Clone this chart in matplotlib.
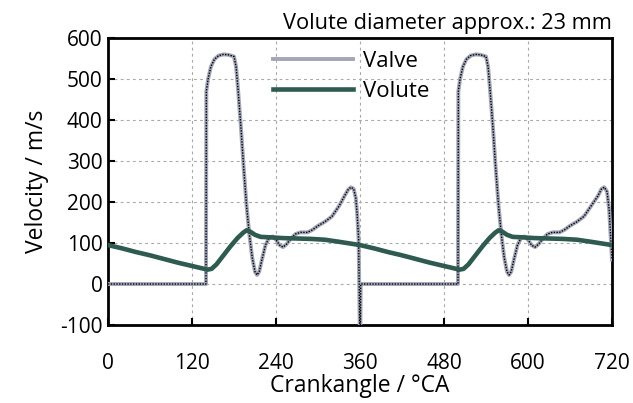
import matplotlib
matplotlib.use("Agg")
import matplotlib.pyplot as plt

plt.rcParams['font.family'] = ['Open Sans', 'DejaVu Sans']
plt.rcParams['axes.unicode_minus'] = False

# Valve velocity (m/s) vs crank angle (°CA)
valve_angle = [0, 140, 140.5, 143, 147, 152, 158, 165, 172, 180, 183, 186, 190, 194, 198, 202,
               206, 210, 213, 216, 220, 225, 230, 235, 240, 245, 250, 255, 262, 268, 275, 285,
               292, 300, 310, 320, 330, 338, 343, 347, 351, 354, 356, 358, 359.8, 360.5, 361,
               500, 500.5, 503, 507, 512, 518, 525, 532, 540, 543, 546, 550, 554, 558, 562,
               566, 570, 573, 576, 580, 585, 590, 595, 600, 605, 610, 615, 622, 628, 635, 645,
               652, 660, 670, 680, 690, 700, 705, 709, 713, 716, 718, 720]
valve_vel = [0, 0, 470, 500, 530, 548, 557, 560, 559, 555, 530, 470, 380, 280, 190, 120,
             65, 30, 22, 30, 60, 95, 112, 116, 108, 95, 90, 97, 112, 122, 126, 126,
             132, 142, 152, 165, 190, 215, 230, 236, 232, 210, 170, 110, -120, -120, 0,
             0, 470, 500, 530, 548, 557, 560, 559, 555, 530, 470, 380, 280, 190, 120,
             65, 30, 22, 30, 60, 95, 112, 116, 108, 95, 90, 97, 112, 122, 126, 126,
             132, 142, 152, 165, 190, 215, 232, 236, 225, 180, 120, 60]

# Volute velocity (m/s)
volute_angle = [0, 20, 40, 60, 80, 100, 120, 135, 142, 148, 155, 165, 175, 185, 193, 198,
                203, 210, 218, 230, 250, 270, 290, 310, 330, 345, 360,
                380, 400, 420, 440, 460, 480, 495, 502, 508, 515, 525, 535, 545, 553, 558,
                563, 570, 578, 590, 610, 630, 650, 670, 690, 705, 720]
volute_vel = [95, 87, 78, 70, 61, 52, 44, 38, 35, 37, 48, 70, 92, 112, 125, 131,
              128, 120, 115, 114, 112, 111, 110, 108, 103, 99, 95,
              87, 78, 70, 61, 52, 44, 38, 35, 37, 48, 70, 92, 112, 125, 131,
              128, 120, 115, 114, 112, 111, 110, 108, 103, 99, 95]

xticks = [0, 120, 240, 360, 480, 600, 720]
yticks = [-100, 0, 100, 200, 300, 400, 500, 600]

fig = plt.figure(figsize=(6.33, 4.03), dpi=100)
ax = fig.add_axes([0.1706, 0.1935, 0.7962, 0.7122])

ax.plot(valve_angle, valve_vel, color='#a2a6b8', lw=2.8, label='Valve', zorder=3)
ax.plot(valve_angle, valve_vel, color='black', lw=1.0, ls=(0, (1, 1)), zorder=4)
ax.plot(volute_angle, volute_vel, color='#2f5a50', lw=3.3, label='Volute', zorder=5)

ax.set_xlim(0, 720)
ax.set_ylim(-100, 600)
ax.set_xticks(xticks)
ax.set_yticks(yticks)
ax.grid(True, color='#a8a8a8', ls=(0, (2.5, 3)), lw=0.8)
ax.set_axisbelow(True)
for s in ax.spines.values():
    s.set_linewidth(2.0)
ax.tick_params(axis='x', direction='in', length=5, width=1.5, pad=20, labelsize=15)
ax.tick_params(axis='y', direction='in', length=5, width=1.5, pad=4, labelsize=15)

ax.set_xlabel('Crankangle / °CA', fontsize=16.5, labelpad=0)
ax.set_ylabel('Velocity / m/s', fontsize=16.5, labelpad=8)

ax.text(1.0, 1.015, 'Volute diameter approx.: 23 mm', transform=ax.transAxes,
        ha='right', va='bottom', fontsize=15.7)

ax.legend(loc='upper left', bbox_to_anchor=(0.327, 0.956), frameon=False,
          borderpad=0, borderaxespad=0, handlelength=3.6, handletextpad=0.45,
          labelspacing=0.41, fontsize=16)

fig.savefig('out.png', dpi=100)
